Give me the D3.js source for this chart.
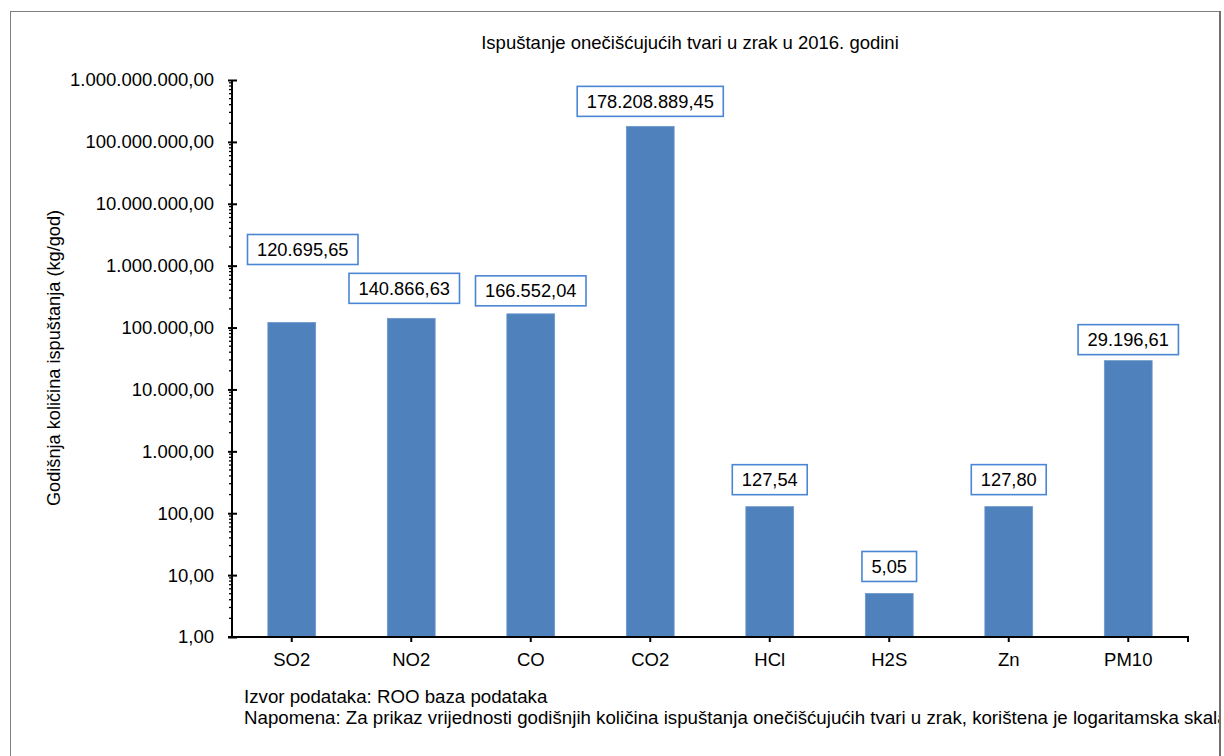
<!DOCTYPE html>
<html>
<head>
<meta charset="utf-8">
<script src="https://cdn.jsdelivr.net/npm/d3@7"></script>
<style>
  body { margin: 0; background: #fff; }
  text { font-family: "Liberation Sans", Arial, sans-serif; fill: #000; }
</style>
</head>
<body>
<div id="chart"></div>
<script>
const categories = ['SO2', 'NO2', 'CO', 'CO2', 'HCl', 'H2S', 'Zn', 'PM10'];
const emissions = [120695.65, 140866.63, 166552.04, 178208889.45, 127.54, 5.05, 127.80, 29196.61];
const yTicks = [1, 10, 100, 1e3, 1e4, 1e5, 1e6, 1e7, 1e8, 1e9];

// manual nudges of the value boxes, as placed in the original
const labelDx = [11, -7, 0, 0, 0, 0, 0, 0];
const labelGap = [58, 15, 8, 10, 12, 12, 12, 6];

const title = 'Ispuštanje onečišćujućih tvari u zrak u 2016. godini';
const yTitle = 'Godišnja količina ispuštanja (kg/god)';
const notes = ['Izvor podataka: ROO baza podataka',
  'Napomena: Za prikaz vrijednosti godišnjih količina ispuštanja onečišćujućih tvari u zrak, korištena je logaritamska skala'];

const W = 1224, H = 756;
const margin = { top: 80, right: 36, bottom: 119, left: 232 };
const width = W - margin.left - margin.right,
      height = H - margin.top - margin.bottom;

const hr = d3.formatLocale({ decimal: ',', thousands: '.', grouping: [3], currency: ['', ''] });
const fmt = hr.format(',.2f');

const svg = d3.select('#chart')
  .append('svg')
  .attr('width', W)
  .attr('height', H);

svg.append('clipPath')
  .attr('id', 'frame')
  .append('rect')
  .attr('x', 10).attr('y', 11).attr('width', 1209).attr('height', 760);

// outer frame
svg.append('rect')
  .attr('x', 10.5).attr('y', 11.5)
  .attr('width', 1209).attr('height', 770)
  .attr('fill', 'none')
  .attr('stroke', '#7f7f7f')
  .attr('stroke-width', 1);
svg.append('line')
  .attr('x1', 1220).attr('x2', 1220).attr('y1', 11).attr('y2', H)
  .attr('stroke', '#6f6f6f').attr('stroke-width', 2);

svg.append('text')
  .attr('x', 690)
  .attr('y', 49)
  .attr('text-anchor', 'middle')
  .style('font-size', '18.5px')
  .text(title);

const g = svg.append('g')
  .attr('transform', `translate(${margin.left},${margin.top})`);

const x = d3.scaleBand()
  .domain(categories)
  .range([0, width])
  .paddingInner(0.6)
  .paddingOuter(0.3);

const y = d3.scaleLog()
  .domain([1, 1e9])
  .range([height, 0]);

// bars
g.append('g')
  .selectAll('rect')
  .data(categories)
  .enter()
  .append('rect')
  .attr('x', d => x(d))
  .attr('y', (d, i) => y(emissions[i]))
  .attr('width', x.bandwidth())
  .attr('height', (d, i) => height - y(emissions[i]))
  .attr('fill', '#4f81bd')
  .attr('stroke', '#6d97cc')
  .attr('stroke-width', 0.8);

// y axis: labels from d3, ticks drawn by hand (major crosses the line, minor on the left)
const yAxis = g.append('g')
  .call(d3.axisLeft(y)
    .tickValues(yTicks)
    .tickFormat(fmt)
    .tickSize(4)
    .tickPadding(14));
yAxis.select('.domain').remove();
yAxis.selectAll('.tick line')
  .attr('x2', 5)
  .attr('x1', -4)
  .attr('stroke', '#000')
  .attr('stroke-width', 2);
yAxis.selectAll('.tick text')
  .style('font-size', '18.5px')
  .style('font-family', '"Liberation Sans", Arial, sans-serif');

let minors = [];
yTicks.slice(0, -1).forEach(t => {
  for (let k = 2; k <= 9; k++) minors.push(t * k);
});
g.append('g')
  .selectAll('line')
  .data(minors)
  .enter()
  .append('line')
  .attr('x1', -3).attr('x2', 0)
  .attr('y1', d => y(d)).attr('y2', d => y(d))
  .attr('stroke', '#000')
  .attr('stroke-width', 1.3);

g.append('line')
  .attr('x1', 0).attr('x2', 0)
  .attr('y1', 0).attr('y2', height)
  .attr('stroke', '#000').attr('stroke-width', 2);

// x axis
const xAxis = g.append('g')
  .attr('transform', `translate(0,${height})`)
  .call(d3.axisBottom(x).tickSize(5).tickPadding(11));
xAxis.select('.domain').remove();
xAxis.selectAll('.tick line').attr('stroke', '#000').attr('stroke-width', 2);
xAxis.selectAll('.tick text')
  .style('font-size', '18.5px')
  .style('font-family', '"Liberation Sans", Arial, sans-serif');

g.append('line')
  .attr('x1', -4).attr('x2', width + 1)
  .attr('y1', height).attr('y2', height)
  .attr('stroke', '#000').attr('stroke-width', 2);
g.append('line')
  .attr('x1', width).attr('x2', width)
  .attr('y1', height).attr('y2', height + 5)
  .attr('stroke', '#000').attr('stroke-width', 2);

// value boxes
const boxH = 30;
const labels = g.append('g')
  .selectAll('g')
  .data(categories)
  .enter()
  .append('g')
  .attr('transform', (d, i) => {
    let cx = x(d) + x.bandwidth() / 2 + labelDx[i];
    let bottom = y(emissions[i]) - labelGap[i];
    return `translate(${cx},${bottom - boxH / 2})`;
  });

labels.append('text')
  .attr('text-anchor', 'middle')
  .attr('dy', '0.36em')
  .style('font-size', '18.3px')
  .text((d, i) => fmt(emissions[i]));

labels.each(function() {
  let sel = d3.select(this);
  let bb = sel.select('text').node().getBBox();
  let bw = bb.width + 19;
  sel.insert('rect', 'text')
    .attr('x', -bw / 2)
    .attr('y', -boxH / 2)
    .attr('width', bw)
    .attr('height', boxH)
    .attr('fill', '#fff')
    .attr('stroke', '#4a86d4')
    .attr('stroke-width', 1.6);
});

// y title
svg.append('text')
  .attr('transform', 'translate(60,358) rotate(-90)')
  .attr('text-anchor', 'middle')
  .style('font-size', '18.2px')
  .text(yTitle);

// footnotes
svg.append('g')
  .attr('clip-path', 'url(#frame)')
  .selectAll('text')
  .data(notes)
  .enter()
  .append('text')
  .attr('x', 244)
  .attr('y', (d, i) => 703 + i * 21)
  .style('font-size', '18.7px')
  .text(d => d);
</script>
</body>
</html>
